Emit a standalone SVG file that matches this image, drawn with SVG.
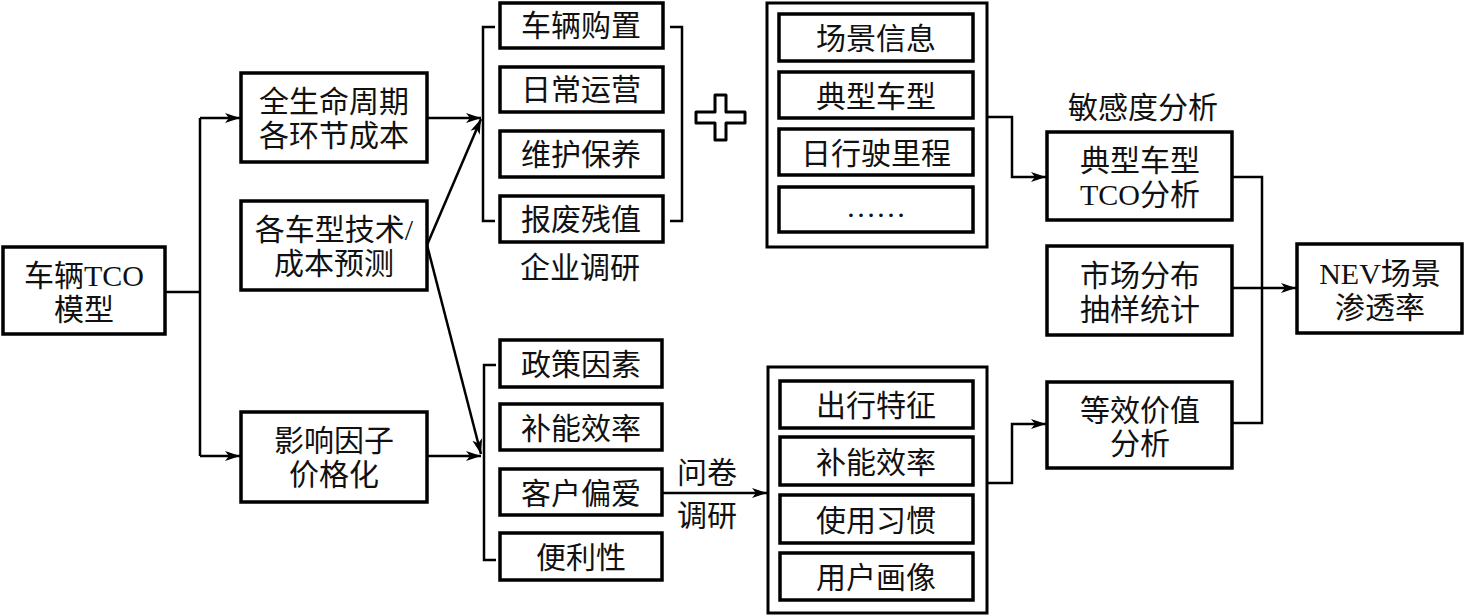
<svg xmlns="http://www.w3.org/2000/svg" width="1465" height="616" viewBox="0 0 1465 616">
<defs>
<marker id="arr" markerUnits="userSpaceOnUse" markerWidth="16" markerHeight="12" viewBox="0 0 16 12" refX="15" refY="6" orient="auto">
<path d="M0,1 L15,6 L0,11 L4,6 z" fill="#000"/>
</marker>
<style>
.box{fill:#fff;stroke:#000;stroke-width:3.5}
.cont{fill:#fff;stroke:#000;stroke-width:3}
.ln{fill:none;stroke:#000;stroke-width:2.5}
text{font-family:"Liberation Serif","Noto Sans CJK SC",serif;font-size:30px;fill:#111;text-anchor:middle}
</style>
</defs>
<rect width="1465" height="616" fill="#fff"/>

<g id="connectors">
<path class="ln" d="M165,292 H200"/>
<path class="ln" d="M200,118 V456"/>
<path class="ln" d="M200,118 H240" marker-end="url(#arr)"/>
<path class="ln" d="M200,456 H240" marker-end="url(#arr)"/>
<path class="ln" d="M427,118 H481" marker-end="url(#arr)"/>
<path class="ln" d="M427,245 L481,119" marker-end="url(#arr)"/>
<path class="ln" d="M427,245 L481,454" marker-end="url(#arr)"/>
<path class="ln" d="M427,456 H481" marker-end="url(#arr)"/>
<path class="ln" d="M495,27 H483 V221 H495"/>
<path class="ln" d="M670,27 H682 V221 H670"/>
<path class="ln" d="M496,365 H484 V560 H496"/>
<path class="ln" d="M662,493 H767" marker-end="url(#arr)"/>
<path class="ln" d="M987,117 H1012 V177 H1046" marker-end="url(#arr)"/>
<path class="ln" d="M987,483 H1012 V424 H1046" marker-end="url(#arr)"/>
<path class="ln" d="M1232,177 H1262 V423 H1232"/>
<path class="ln" d="M1232,288 H1296" marker-end="url(#arr)"/>
</g>

<g id="n-tco-model">
<rect class="box" x="3" y="247" width="162" height="87"/>
<text x="84" y="286">车辆TCO</text>
<text x="84" y="320">模型</text>
</g>
<g id="n-lifecycle">
<rect class="box" x="241" y="73" width="186" height="89"/>
<text x="334" y="112">全生命周期</text>
<text x="334" y="146">各环节成本</text>
</g>
<g id="n-tech">
<rect class="box" x="241" y="201" width="186" height="89"/>
<text x="334" y="240">各车型技术/</text>
<text x="334" y="274">成本预测</text>
</g>
<g id="n-factor">
<rect class="box" x="241" y="412" width="186" height="90"/>
<text x="334" y="451">影响因子</text>
<text x="334" y="485">价格化</text>
</g>

<g id="n-purchase"><rect class="box" x="500" y="3" width="163" height="45"/><text x="581" y="36">车辆购置</text></g>
<g id="n-daily"><rect class="box" x="500" y="67" width="163" height="45"/><text x="581" y="100">日常运营</text></g>
<g id="n-maint"><rect class="box" x="500" y="131" width="163" height="46"/><text x="581" y="165">维护保养</text></g>
<g id="n-scrap"><rect class="box" x="500" y="196" width="163" height="46"/><text x="581" y="230">报废残值</text></g>
<g id="lbl-enterprise"><text x="580" y="278">企业调研</text></g>

<g id="plus">
<path d="M715,95 H726 V112 H745 V123 H726 V140 H715 V123 H696 V112 H715 Z" fill="#fff" stroke="#000" stroke-width="3" stroke-linejoin="round"/>
</g>

<g id="n-scene-group">
<rect class="cont" x="767" y="3" width="220" height="244"/>
<rect class="box" x="779" y="14" width="194" height="47"/><text x="876" y="49">场景信息</text>
<rect class="box" x="779" y="72" width="194" height="46"/><text x="876" y="107">典型车型</text>
<rect class="box" x="779" y="129" width="194" height="46"/><text x="876" y="164">日行驶里程</text>
<rect class="box" x="779" y="187" width="194" height="45"/><text x="876" y="217">……</text>
</g>

<g id="n-policy"><rect class="box" x="500" y="340" width="162" height="47"/><text x="581" y="375">政策因素</text></g>
<g id="n-charge"><rect class="box" x="500" y="404" width="162" height="46"/><text x="581" y="439">补能效率</text></g>
<g id="n-pref"><rect class="box" x="500" y="469" width="162" height="46"/><text x="581" y="504">客户偏爱</text></g>
<g id="n-conv"><rect class="box" x="500" y="533" width="162" height="47"/><text x="581" y="568">便利性</text></g>
<g id="lbl-survey">
<text x="707" y="483">问卷</text>
<text x="707" y="526">调研</text>
</g>

<g id="n-user-group">
<rect class="cont" x="768" y="367" width="219" height="246"/>
<rect class="box" x="780" y="381" width="193" height="47"/><text x="876" y="416">出行特征</text>
<rect class="box" x="780" y="437" width="193" height="48"/><text x="876" y="473">补能效率</text>
<rect class="box" x="780" y="495" width="193" height="48"/><text x="876" y="531">使用习惯</text>
<rect class="box" x="780" y="553" width="193" height="47"/><text x="876" y="588">用户画像</text>
</g>

<g id="lbl-sensitivity"><text x="1143" y="118">敏感度分析</text></g>
<g id="n-tco-analysis">
<rect class="box" x="1047" y="132" width="185" height="88"/>
<text x="1140" y="171">典型车型</text>
<text x="1140" y="205">TCO分析</text>
</g>
<g id="n-market">
<rect class="box" x="1047" y="246" width="185" height="89"/>
<text x="1140" y="286">市场分布</text>
<text x="1140" y="320">抽样统计</text>
</g>
<g id="n-equiv">
<rect class="box" x="1047" y="382" width="185" height="86"/>
<text x="1140" y="421">等效价值</text>
<text x="1140" y="454">分析</text>
</g>
<g id="n-nev">
<rect class="box" x="1297" y="244" width="165" height="89"/>
<text x="1380" y="284">NEV场景</text>
<text x="1380" y="318">渗透率</text>
</g>
</svg>
